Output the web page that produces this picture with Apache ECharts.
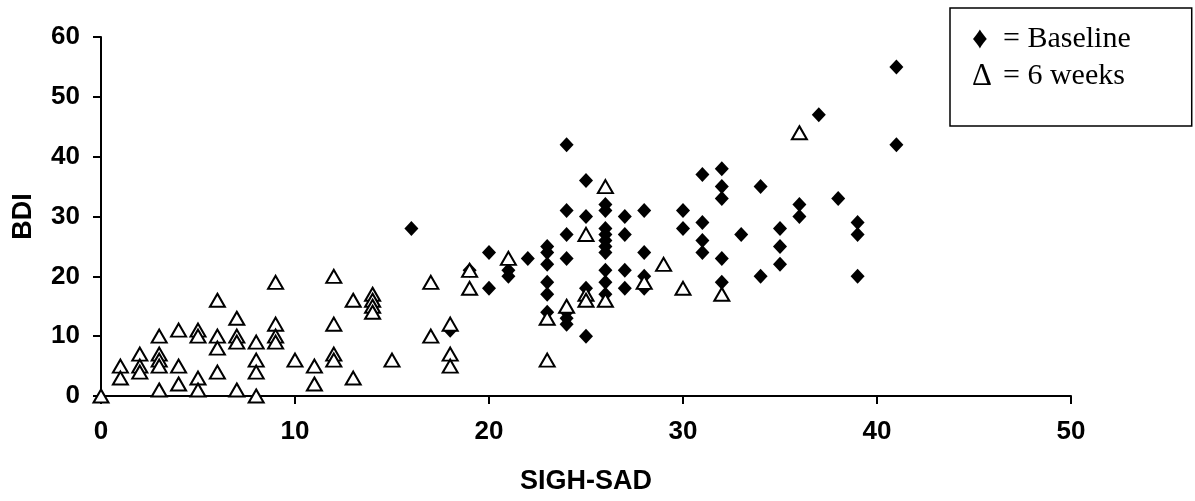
<!DOCTYPE html>
<html>
<head>
<meta charset="utf-8">
<script src="https://cdn.jsdelivr.net/npm/echarts@6/dist/echarts.min.js"></script>
<style>
  html, body { margin: 0; padding: 0; background: #fff; }
  #chart { width: 1195px; height: 501px; }
</style>
</head>
<body>
<div id="chart"></div>
<script>
// SIGH-SAD (x), BDI (y)
var baseline = [
    [16, 28], [18, 11], [19, 21], [20, 24], [20, 18], [21, 21], [21, 20], [22, 23],
    [23, 25], [23, 24], [23, 22], [23, 19], [23, 17], [23, 14],
    [24, 42], [24, 31], [24, 27], [24, 23], [24, 14], [24, 13], [24, 12],
    [25, 36], [25, 30], [25, 18], [25, 10],
    [26, 32], [26, 31], [26, 28], [26, 27], [26, 26], [26, 25], [26, 24], [26, 21], [26, 19], [26, 17],
    [27, 30], [27, 27], [27, 21], [27, 18],
    [28, 31], [28, 24], [28, 20], [28, 18],
    [30, 31], [30, 28],
    [31, 37], [31, 29], [31, 26], [31, 24],
    [32, 38], [32, 35], [32, 33], [32, 23], [32, 19],
    [33, 27], [34, 35], [34, 20], [35, 28], [35, 25], [35, 22],
    [36, 32], [36, 30], [37, 47], [38, 33], [39, 29], [39, 27], [39, 20],
    [41, 55], [41, 42]
];
var sixWeeks = [
    [0, 0], [1, 5], [1, 3], [2, 7], [2, 5], [2, 4],
    [3, 10], [3, 7], [3, 6], [3, 5], [3, 1],
    [4, 11], [4, 5], [4, 2], [5, 11], [5, 10], [5, 3], [5, 1],
    [6, 16], [6, 10], [6, 8], [6, 4], [7, 13], [7, 10], [7, 9], [7, 1],
    [8, 9], [8, 6], [8, 4], [8, 0], [9, 19], [9, 12], [9, 10], [9, 9],
    [10, 6], [11, 5], [11, 2], [12, 20], [12, 12], [12, 7], [12, 6],
    [13, 16], [13, 3], [14, 17], [14, 16], [14, 15], [14, 14], [15, 6],
    [17, 19], [17, 10], [18, 12], [18, 7], [18, 5], [19, 21], [19, 18],
    [21, 23], [23, 13], [23, 6], [24, 15], [25, 27], [25, 17], [25, 16],
    [26, 35], [26, 16], [28, 19], [29, 22], [30, 18], [32, 17], [36, 44]
];
var legendGlyphs = {'Baseline': '\u2666', '6 weeks': '\u0394'};

var axisFont = {fontFamily: 'Liberation Sans, Arial, sans-serif', fontWeight: 'bold', color: '#000'};
var myChart = echarts.init(document.getElementById('chart'));
var option = {
    animation: false,
    backgroundColor: '#fff',
    grid: {left: 101, right: 124, top: 37, bottom: 105},
    legend: {
        orient: 'vertical',
        left: 950,
        top: 8,
        padding: [13, 61, 31, 17],
        itemGap: 0,
        itemWidth: 0,
        itemHeight: 37,
        icon: 'none',
        borderColor: '#000',
        borderWidth: 1.5,
        selectedMode: false,
        textStyle: {
            fontFamily: 'Liberation Serif, Times New Roman, serif',
            fontSize: 30,
            color: '#000',
            lineHeight: 37,
            rich: {
                g: {fontFamily: 'Liberation Serif, DejaVu Serif, serif', fontSize: 31, width: 31, color: '#000'}
            }
        },
        formatter: function (name) {
            return '{g|' + legendGlyphs[name] + '}= ' + name;
        },
        data: ['Baseline', '6 weeks']
    },
    xAxis: {
        type: 'value',
        min: 0,
        max: 50,
        interval: 10,
        name: 'SIGH-SAD',
        nameLocation: 'middle',
        nameGap: 72,
        nameTextStyle: Object.assign({fontSize: 27}, axisFont),
        axisLine: {lineStyle: {color: '#000', width: 2}},
        axisTick: {length: 8, lineStyle: {color: '#000', width: 2}},
        axisLabel: Object.assign({fontSize: 26, margin: 23}, axisFont),
        splitLine: {show: false}
    },
    yAxis: {
        type: 'value',
        min: 0,
        max: 60,
        interval: 10,
        name: 'BDI',
        nameLocation: 'middle',
        nameGap: 64,
        nameTextStyle: Object.assign({fontSize: 27}, axisFont),
        axisLine: {show: true, lineStyle: {color: '#000', width: 2}},
        axisTick: {show: true, length: 8, lineStyle: {color: '#000', width: 2}},
        axisLabel: Object.assign({fontSize: 26, margin: 21}, axisFont),
        splitLine: {show: false}
    },
    series: [
        {
            name: 'Baseline',
            type: 'scatter',
            symbol: 'diamond',
            symbolSize: [14, 15],
            itemStyle: {color: '#000', opacity: 1},
            data: baseline
        },
        {
            name: '6 weeks',
            type: 'scatter',
            symbol: 'triangle',
            symbolSize: [15, 13],
            itemStyle: {color: '#fff', borderColor: '#000', borderWidth: 2, opacity: 1},
            data: sixWeeks
        }
    ]
};
myChart.setOption(option);
</script>
</body>
</html>
